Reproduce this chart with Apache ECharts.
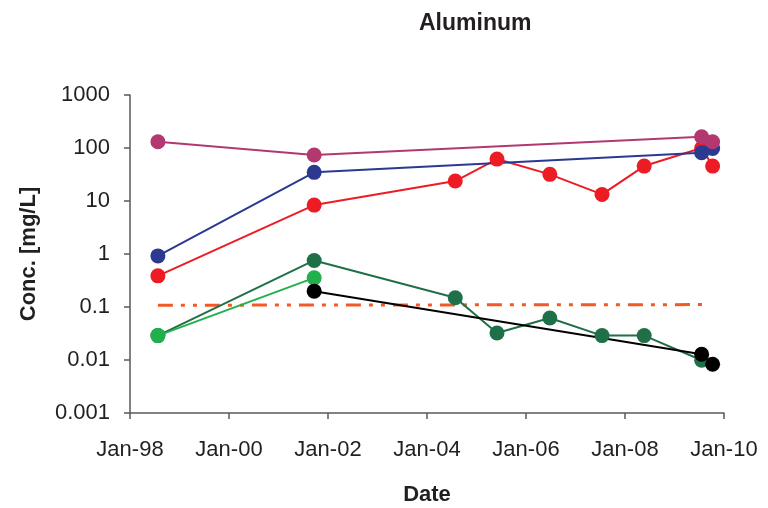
<!DOCTYPE html>
<html>
<head>
<meta charset="utf-8">
<script src="https://cdn.jsdelivr.net/npm/echarts@6/dist/echarts.min.js"></script>
<style>
  html, body { margin: 0; padding: 0; background: #fff; }
  #chart { width: 768px; height: 508px; }
</style>
</head>
<body>
<div id="chart"></div>
<script>
// Sampling dates
const magentaDates = ['1998-07-26', '2001-09-21', '2009-07-20', '2009-10-09'];
const magentaValues = [131, 73.6, 163, 131];

const blueDates = ['1998-07-26', '2001-09-21', '2009-07-20', '2009-10-09'];
const blueValues = [0.92, 34.7, 81.5, 98];

const redDates = ['1998-07-26', '2001-09-21', '2004-07-28', '2005-06-01', '2006-06-26',
                  '2007-07-16', '2008-05-22', '2009-07-20', '2009-10-09'];
const redValues = [0.387, 8.37, 23.8, 61.8, 31.8, 13.3, 45.6, 100, 45.6];

const darkGreenDates = ['1998-07-26', '2001-09-21', '2004-07-28', '2005-06-01', '2006-06-26',
                        '2007-07-16', '2008-05-22', '2009-07-20'];
const darkGreenValues = [0.0289, 0.755, 0.149, 0.0324, 0.0622, 0.0289, 0.0289, 0.00988];

const lightGreenDates = ['1998-07-26', '2001-09-21'];
const lightGreenValues = [0.0289, 0.355];

const blackDates = ['2001-09-21', '2009-07-20', '2009-10-09'];
const blackValues = [0.199, 0.0128, 0.0083];

// Reference level (dash-dot-dot line)
const limitDates = ['1998-07-26', '2009-08-25'];
const limitValues = [0.108, 0.111];

// Axis extents
const xStart = '1998-01-01';
const xEnd = '2010-01-01';
const yTicks = [0.001, 0.01, 0.1, 1, 10, 100, 1000];

const DAY = 86400000;
const toPairs = (dates, vals) => dates.map((d, i) => [Date.parse(d), vals[i]]);

const FONT = '"Liberation Sans", Arial, sans-serif';
const TEXT = '#231F20';
const AXIS = '#595959';

function pointSeries(name, color, dates, vals, lw) {
  return {
    name, type: 'line',
    data: toPairs(dates, vals),
    symbol: 'circle', symbolSize: 15,
    itemStyle: { color },
    lineStyle: { color, width: lw || 2 },
    emphasis: { disabled: true },
    silent: true
  };
}

const chart = echarts.init(document.getElementById('chart'), null, { renderer: 'canvas' });
chart.setOption({
  animation: false,
  backgroundColor: '#ffffff',
  title: {
    text: 'Aluminum',
    left: 414, top: 7,
    textStyle: { fontFamily: FONT, fontSize: 23, fontWeight: 'bold', color: TEXT }
  },
  grid: { left: 130, right: 44, top: 95, bottom: 95, containLabel: false, outerBoundsMode: 'none' },
  xAxis: {
    type: 'value',
    min: Date.parse(xStart),
    max: Date.parse(xEnd),
    interval: 730.5 * DAY,
    name: 'Date',
    nameLocation: 'middle',
    nameGap: 71,
    nameTextStyle: { fontFamily: FONT, fontSize: 22, fontWeight: 'bold', color: TEXT },
    axisLine: { show: true, lineStyle: { color: AXIS, width: 1.5 } },
    axisTick: { show: true, inside: false, length: 6, lineStyle: { color: AXIS, width: 1.5 } },
    splitLine: { show: false },
    axisLabel: {
      margin: 26,
      fontFamily: FONT, fontSize: 22, color: TEXT,
      formatter: v => 'Jan-' + String(new Date(v + DAY).getUTCFullYear()).slice(2)
    }
  },
  yAxis: {
    type: 'log',
    logBase: 10,
    min: yTicks[0],
    max: yTicks[yTicks.length - 1],
    splitNumber: 6,
    name: 'Conc. [mg/L]',
    nameLocation: 'middle',
    nameGap: 90,
    nameRotate: 90,
    nameTextStyle: { fontFamily: FONT, fontSize: 22, fontWeight: 'bold', color: TEXT },
    axisLine: { show: true, lineStyle: { color: AXIS, width: 1.5 } },
    axisTick: { show: true, inside: false, length: 6, lineStyle: { color: AXIS, width: 1.5 } },
    splitLine: { show: false },
    minorTick: { show: false },
    axisLabel: {
      margin: 20,
      fontFamily: FONT, fontSize: 22, color: TEXT,
      formatter: v => String(Number(Number(v).toPrecision(1)))
    }
  },
  series: [
    {
      name: 'limit', type: 'line',
      data: toPairs(limitDates, limitValues),
      symbol: 'none',
      lineStyle: { color: '#F15A24', width: 3, type: [15, 8, 4, 8, 4, 8], cap: 'butt' },
      emphasis: { disabled: true },
      silent: true
    },
    pointSeries('darkGreen', '#1F7049', darkGreenDates, darkGreenValues),
    pointSeries('lightGreen', '#21B04B', lightGreenDates, lightGreenValues),
    pointSeries('black', '#000000', blackDates, blackValues),
    pointSeries('red', '#ED1C24', redDates, redValues),
    pointSeries('blue', '#2B3990', blueDates, blueValues),
    pointSeries('magenta', '#B2386F', magentaDates, magentaValues)
  ]
});
</script>
</body>
</html>
